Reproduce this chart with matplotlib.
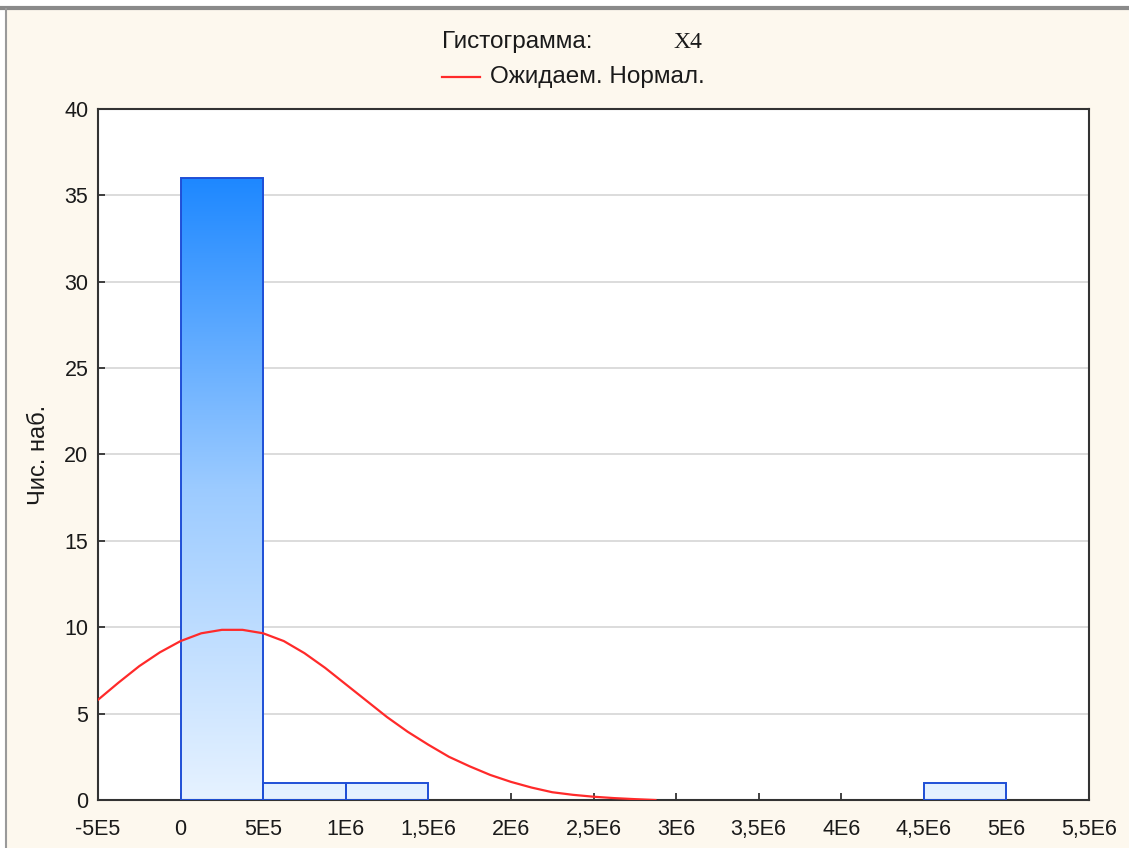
import matplotlib
matplotlib.use("Agg")
import matplotlib.pyplot as plt
import numpy as np
from matplotlib.patches import Rectangle
from matplotlib.lines import Line2D
from matplotlib.colors import LinearSegmentedColormap

# Histogram bins (left edge, right edge) and counts
bin_left = [0, 5e5, 1e6, 4.5e6]
bin_right = [5e5, 1e6, 1.5e6, 5e6]
counts = [36, 1, 1, 1]

# Expected normal curve (counts per bin) sampled along x
curve_x = [-5e5, -3.75e5, -2.5e5, -1.25e5, 0, 1.25e5, 2.5e5, 3.75e5, 5e5,
           6.25e5, 7.5e5, 8.75e5, 1e6, 1.125e6, 1.25e6, 1.375e6, 1.5e6,
           1.625e6, 1.75e6, 1.875e6, 2e6, 2.125e6, 2.25e6, 2.375e6, 2.5e6,
           2.625e6, 2.75e6, 2.875e6]
curve_y = [5.8, 6.8, 7.75, 8.55, 9.2, 9.65, 9.85, 9.85, 9.65,
           9.2, 8.5, 7.65, 6.7, 5.75, 4.8, 3.95, 3.2,
           2.5, 1.95, 1.45, 1.05, 0.72, 0.45, 0.3, 0.19,
           0.11, 0.05, 0.0]

x_ticks = [-5e5, 0, 5e5, 1e6, 1.5e6, 2e6, 2.5e6, 3e6, 3.5e6, 4e6, 4.5e6, 5e6, 5.5e6]
x_labels = ["-5E5", "0", "5E5", "1E6", "1,5E6", "2E6", "2,5E6", "3E6",
            "3,5E6", "4E6", "4,5E6", "5E6", "5,5E6"]
y_ticks = [0, 5, 10, 15, 20, 25, 30, 35, 40]

plt.rcParams['font.family'] = ['Liberation Sans', 'DejaVu Sans']

W, H = 1129, 848
fig = plt.figure(figsize=(W / 100, H / 100), dpi=100)
fig.patch.set_facecolor("white")

# Window panel: cream background with grey border on top and left
panel = fig.add_axes([0, 0, 1, 1], zorder=-10)
panel.set_xlim(0, W)
panel.set_ylim(H, 0)
panel.axis("off")
panel.add_patch(Rectangle((6, 9), W, H, facecolor="#fdf8ee", edgecolor="none"))
panel.plot([0, W], [7.5, 7.5], color="#8a8a8a", lw=3, solid_capstyle="butt")
panel.plot([6, 6], [9, H], color="#9a9a9a", lw=1.5)

ax = fig.add_axes([98 / W, 1 - 800 / H, (1089 - 98) / W, (800 - 109) / H])
ax.set_facecolor("white")
ax.set_xlim(-5e5, 5.5e6)
ax.set_ylim(0, 40)

for yv in y_ticks[1:-1]:
    ax.axhline(yv, color="#d6d6d6", lw=1.2, zorder=0)

# Vertical gradient fill shared by all bars (light at 0, saturated at top bar)
cmap = LinearSegmentedColormap.from_list("bluegrad", ["#e6f2ff", "#9ccbff", "#1e88ff"])
grad = np.linspace(0, 1, 256).reshape(-1, 1)
for l, r, c in zip(bin_left, bin_right, counts):
    rect = Rectangle((l, 0), r - l, c, facecolor="none", edgecolor="#1f4fd6",
                     lw=1.4, zorder=3)
    ax.add_patch(rect)
    im = ax.imshow(grad, cmap=cmap, aspect="auto", origin="lower",
                   extent=(-5e5, 5.5e6, 0, max(counts)), zorder=2,
                   interpolation="bilinear")
    im.set_clip_path(rect)

ax.plot(curve_x, curve_y, color="#ff2a2a", lw=1.6, zorder=4)

ax.set_xticks(x_ticks)
ax.set_xticklabels(x_labels, va="baseline")
ax.set_yticks(y_ticks)
ax.tick_params(axis="both", direction="in", length=5, width=1.2, color="#222222",
               labelsize=15.5, labelcolor="#1a1a1a")
ax.tick_params(axis="x", pad=25)
ax.tick_params(axis="y", pad=7)
for sp in ax.spines.values():
    sp.set_color("#333333")
    sp.set_linewidth(1.5)

ax.set_ylabel("Чис. наб.", fontsize=17, color="#1a1a1a", labelpad=10)

# Header: title and legend entry
fig.text(517 / W, 1 - 42 / H, "Гистограмма:", ha="center", va="center",
         fontsize=17.5, color="#1a1a1a")
fig.text(688 / W, 1 - 42 / H, "X4", ha="center", va="center",
         fontsize=17, color="#1a1a1a", family=["Liberation Serif", "DejaVu Serif"])
fig.add_artist(Line2D([442 / W, 480 / W], [1 - 77 / H, 1 - 77 / H],
                      color="#ff2a2a", lw=1.6))
fig.text(490 / W, 1 - 77 / H, "Ожидаем. Нормал.", ha="left", va="center",
         fontsize=17.5, color="#1a1a1a")

fig.savefig("out.png", dpi=100)
